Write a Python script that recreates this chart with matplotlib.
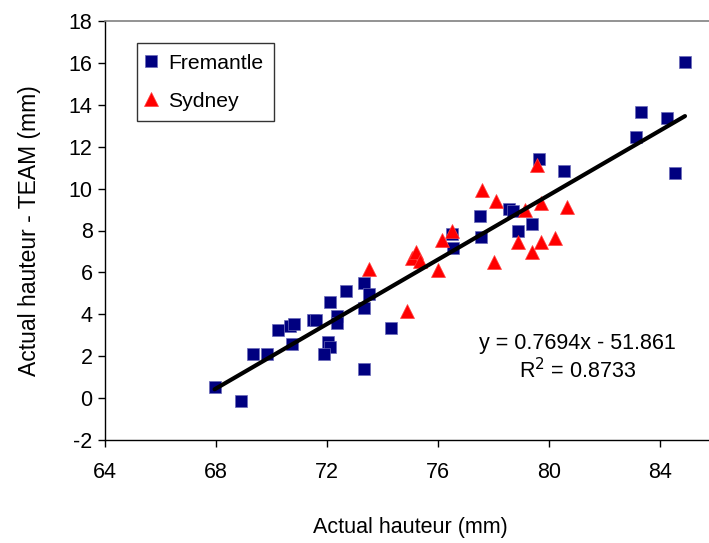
import matplotlib
matplotlib.use("Agg")
import matplotlib.pyplot as plt
import numpy as np

plt.rcParams['font.family'] = ['Liberation Sans', 'DejaVu Sans']
plt.rcParams['axes.unicode_minus'] = False

# Data
fremantle_x = [67.95, 68.9, 69.35, 69.85, 70.25, 70.65, 70.8, 70.75, 71.5, 71.62,
               72.1, 72.05, 72.1, 71.9, 72.35, 72.35, 72.7, 73.35, 73.5, 73.35,
               73.35, 74.3, 76.5, 76.55, 77.5, 77.55, 78.55, 78.7, 78.9, 79.4,
               79.65, 80.55, 83.15, 83.3, 84.25, 84.55, 84.9]
fremantle_y = [0.55, -0.15, 2.1, 2.1, 3.25, 3.45, 3.55, 2.6, 3.75, 3.75,
               4.6, 2.7, 2.45, 2.1, 3.9, 3.6, 5.1, 5.5, 4.95, 4.3,
               1.4, 3.35, 7.85, 7.15, 8.7, 7.7, 9.05, 8.95, 8.0, 8.3,
               11.4, 10.85, 12.45, 13.65, 13.35, 10.75, 16.05]

sydney_x = [73.5, 74.9, 75.05, 75.2, 75.35, 76.0, 76.15, 76.5, 77.6, 78.0,
            78.1, 78.9, 79.15, 79.4, 79.55, 79.7, 79.7, 80.2, 80.65]
sydney_y = [6.15, 4.15, 6.7, 6.95, 6.55, 6.1, 7.55, 8.0, 9.95, 6.5,
            9.4, 7.45, 9.0, 6.95, 11.15, 9.3, 7.45, 7.65, 9.1]

slope = 0.7694
intercept = -51.861
equation_text = "y = 0.7694x - 51.861"
r2_text = "R$^2$ = 0.8733"

x_ticks = [64, 68, 72, 76, 80, 84]
y_ticks = [-2, 0, 2, 4, 6, 8, 10, 12, 14, 16, 18]

W, H = 709, 543
fig = plt.figure(figsize=(W / 100, H / 100), dpi=100)
left, right, top, bottom = 105, 709, 21, 440
ax = fig.add_axes([left / W, 1 - bottom / H, (right - left) / W, (bottom - top) / H])

# Trend line over data range
all_x = np.array(fremantle_x + sydney_x)
lx = np.array([all_x.min(), all_x.max()])
ax.plot(lx, slope * lx + intercept, color='black', lw=3.0, zorder=3, solid_capstyle='round')

ax.plot(fremantle_x, fremantle_y, linestyle='none', marker='s', markersize=8.6,
        markerfacecolor='#000080', markeredgecolor='#6a6ab8', markeredgewidth=0.5,
        label='Fremantle', zorder=2)
ax.plot(sydney_x, sydney_y, linestyle='none', marker='^', markersize=10.5,
        markerfacecolor='#ff0000', markeredgecolor='#ff4040', markeredgewidth=0.5,
        label='Sydney', zorder=2)

xmax = 64 + (right - left) / 27.75
ax.set_xlim(64, xmax)
ax.set_ylim(-2, 18)
ax.set_xticks(x_ticks)
ax.set_yticks(y_ticks)
ax.tick_params(axis='both', direction='out', length=5, width=1, color='black',
               labelsize=15.5)
ax.tick_params(axis='x', pad=10.5)
ax.tick_params(axis='y', pad=4)

for s in ['left', 'bottom']:
    ax.spines[s].set_color('black')
    ax.spines[s].set_linewidth(1)
ax.spines['top'].set_color('#808080')
ax.spines['top'].set_linewidth(1.2)
ax.spines['right'].set_visible(False)

fig.text(410 / W, 1 - 527 / H, "Actual hauteur (mm)", ha='center', va='center', fontsize=15.5)
fig.text(30 / W, 1 - 231 / H, "Actual hauteur - TEAM (mm)", ha='center', va='center',
         rotation=90, fontsize=16.5)

fig.text(577 / W, 1 - 343 / H, equation_text, fontsize=15.5, ha='center', va='center')
fig.text(578 / W, 1 - 371 / H, r2_text, fontsize=15.5, ha='center', va='center')

leg = ax.legend(loc='upper left', bbox_to_anchor=((137 - left) / (right - left), 1 - (43 - top) / (bottom - top)),
                frameon=True, fancybox=False, edgecolor='black', fontsize=15.2,
                handlelength=0.33, handletextpad=0.64, borderpad=0.5, labelspacing=0.9,
                borderaxespad=0, markerscale=0.95)
leg.get_frame().set_linewidth(1.0)

fig.savefig("out.png", dpi=100, facecolor='white')
